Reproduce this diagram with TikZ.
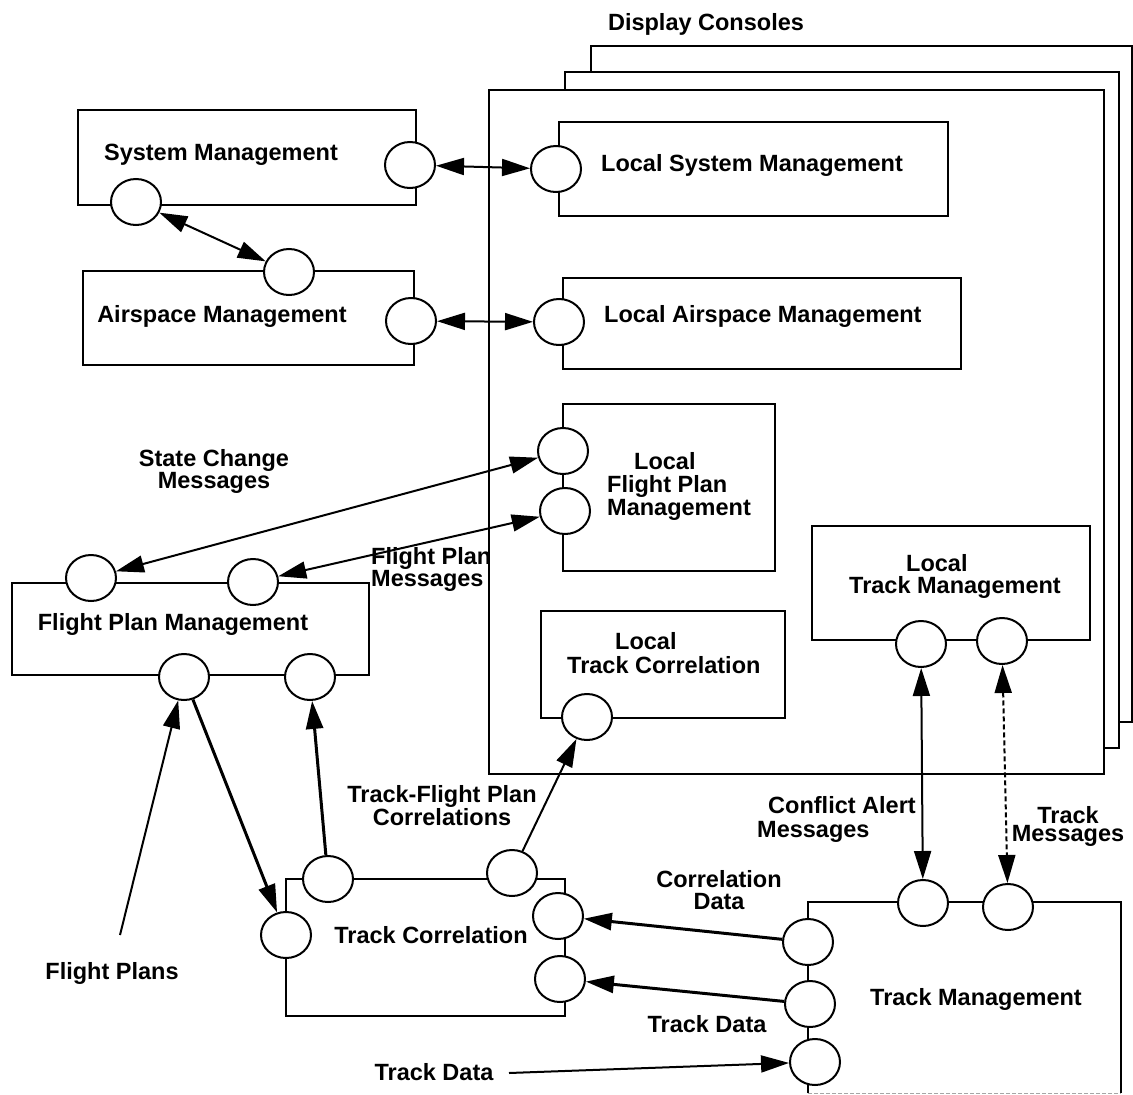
\documentclass[tikz,border=0pt]{standalone}
\usepackage{fontspec}
\setmainfont{Liberation Sans}
\usetikzlibrary{arrows.meta,shapes.geometric}

\begin{document}
\begin{tikzpicture}[x=1pt,y=-1pt,
  >={Triangle[length=28pt,width=17pt]},
  page/.style={draw,line width=2pt,fill=white,inner sep=0pt,anchor=north west},
  box/.style={draw,line width=2pt,fill=white,inner sep=0pt,anchor=north west},
  port/.style={draw,ellipse,line width=2pt,fill=white,inner sep=0pt,
    minimum width=50pt,minimum height=46pt},
  lbl/.style={inner sep=0pt,font=\fontsize{23.5}{23}\selectfont\bfseries},
  flow/.style={line width=2pt},
  heavy/.style={line width=3pt},
  dashflow/.style={line width=2pt,dash pattern=on 5pt off 3pt}]

\useasboundingbox (0,0) rectangle (1133,1095);
\fill[white] (0,0) rectangle (1133,1095);

% stacked display consoles
\node[page,minimum width=541pt,minimum height=676pt] (con3) at (590,45) {};
\node[page,minimum width=554pt,minimum height=676pt] (con2) at (564,71) {};
\node[page,minimum width=615pt,minimum height=684pt] (con1) at (488,89) {};

% component boxes
\node[box,minimum width=338pt,minimum height=95pt] (sm) at (77,109) {};
\node[box,minimum width=331pt,minimum height=94pt] (asm) at (82,270) {};
\node[box,minimum width=357pt,minimum height=92pt] (fpm) at (11,582) {};
\node[box,minimum width=279pt,minimum height=137pt] (tc) at (285,878) {};
\node[inner sep=0pt,anchor=north west,minimum width=313pt,minimum height=191pt] (tm) at (808,902) {};
\draw[line width=2pt] (tm.south west) -- (tm.north west) -- (tm.north east) -- (tm.south east);
\draw[line width=1pt,black!35,dash pattern=on 4pt off 2pt] (tm.south west) -- (tm.south east);
\node[box,minimum width=389pt,minimum height=94pt] (lsm) at (558,121) {};
\node[box,minimum width=398pt,minimum height=91pt] (lasm) at (562,277) {};
\node[box,minimum width=212pt,minimum height=167pt] (lfpm) at (562,403) {};
\node[box,minimum width=244pt,minimum height=107pt] (ltc) at (540,610) {};
\node[box,minimum width=278pt,minimum height=114pt] (ltm) at (811,525) {};

% interface ports
\node[port] (smR) at (410,165) {};
\node[port] (smB) at (136,202) {};
\node[port] (asmT) at (289,272) {};
\node[port] (asmR) at (411,321) {};
\node[port] (lsmL) at (556,169) {};
\node[port] (lasmL) at (559,322) {};
\node[port] (lfpmA) at (563,451) {};
\node[port] (lfpmB) at (565,511) {};
\node[port] (fpmA) at (91,578) {};
\node[port] (fpmB) at (253,582) {};
\node[port] (fpmC) at (184,677) {};
\node[port] (fpmD) at (310,677) {};
\node[port] (tcA) at (328,879) {};
\node[port] (tcB) at (512,873) {};
\node[port] (tcL) at (286,935) {};
\node[port] (tcR1) at (558,916) {};
\node[port] (tcR2) at (560,979) {};
\node[port] (ltcP) at (587,717) {};
\node[port] (ltmA) at (921,644) {};
\node[port] (ltmB) at (1002,641) {};
\node[port] (tmA) at (923,903) {};
\node[port] (tmB) at (1008,907) {};
\node[port] (tmL1) at (808,942) {};
\node[port] (tmL2) at (810,1004) {};
\node[port] (tmL3) at (815,1062) {};

% free ends of incoming flows
\coordinate (fpsrc) at (120,935);
\coordinate (tdsrc) at (509,1073);

% flows
\draw[flow,<->] (smR) -- (lsmL);
\draw[flow,<->] (smB) -- (asmT);
\draw[flow,<->] (asmR) -- (lasmL);
\draw[flow,<->] (fpmA) -- (lfpmA);
\draw[flow,<->] (fpmB) -- (lfpmB);
\draw[flow,->] (fpsrc) -- (fpmC);
\draw[heavy,->] (fpmC) -- (tcL);
\draw[heavy,->] (tcA) -- (fpmD);
\draw[flow,->] (tcB) -- (ltcP);
\draw[flow,<->] (ltmA) -- (tmA);
\draw[dashflow,<->] (ltmB) -- (tmB);
\draw[heavy,->] (tmL1) -- (tcR1);
\draw[heavy,->] (tmL2) -- (tcR2);
\draw[flow,->] (tdsrc) -- (tmL3);

% texts (multi-line texts are placed by the baseline of their last line)
\node[lbl,anchor=base] (tDisp) at (706,30) {Display Consoles};
\node[lbl,anchor=base] (tSM) at (221,160) {System Management};
\node[lbl,anchor=base] (tASM) at (222,322) {Airspace Management};
\node[lbl,anchor=base west] (tLSM) at (601,171) {Local System Management};
\node[lbl,anchor=base west] (tLASM) at (604,322) {Local Airspace Management};
\node[lbl,anchor=base west,align=left] (tLFPM) at (607,515)
  {\hspace*{27pt}Local\\Flight Plan\\Management};
\node[lbl,anchor=base west,align=left,font=\fontsize{23.5}{22}\selectfont\bfseries] (tLTM) at (849,593)
  {\hspace*{57pt}Local\\Track Management};
\node[lbl,anchor=base west,align=left,font=\fontsize{23.5}{24}\selectfont\bfseries] (tLTC) at (567,673)
  {\hspace*{48pt}Local\\Track Correlation};
\node[lbl,anchor=base,align=center,font=\fontsize{23.5}{22}\selectfont\bfseries] (tSCM) at (214,488)
  {State Change\\Messages};
\node[lbl,anchor=base west,align=left,font=\fontsize{23.5}{22}\selectfont\bfseries] (tFPMsg) at (371,586)
  {Flight Plan\\Messages};
\node[lbl,anchor=base] (tFPM) at (173,630) {Flight Plan Management};
\node[lbl,anchor=base] (tFP) at (112,979) {Flight Plans};
\node[lbl,anchor=base,align=center,font=\fontsize{23.5}{22}\selectfont\bfseries] (tTFPC) at (442,825)
  {Track-Flight Plan\\Correlations};
\node[lbl,anchor=base] (tTC) at (431,943) {Track Correlation};
\node[lbl,anchor=base,align=center,font=\fontsize{23.5}{22}\selectfont\bfseries] (tCD) at (719,909)
  {Correlation\\Data};
\node[lbl,anchor=base west,align=left,font=\fontsize{23.5}{24}\selectfont\bfseries] (tCAM) at (757,837)
  {\hspace*{11pt}Conflict Alert\\Messages};
\node[lbl,anchor=base,align=center,font=\fontsize{23.5}{18}\selectfont\bfseries] (tTMsg) at (1068,841)
  {Track\\Messages};
\node[lbl,anchor=base] (tTD1) at (707,1032) {Track Data};
\node[lbl,anchor=base] (tTD2) at (434,1080) {Track Data};
\node[lbl,anchor=base] (tTM) at (976,1005) {Track Management};

\end{tikzpicture}
\end{document}
